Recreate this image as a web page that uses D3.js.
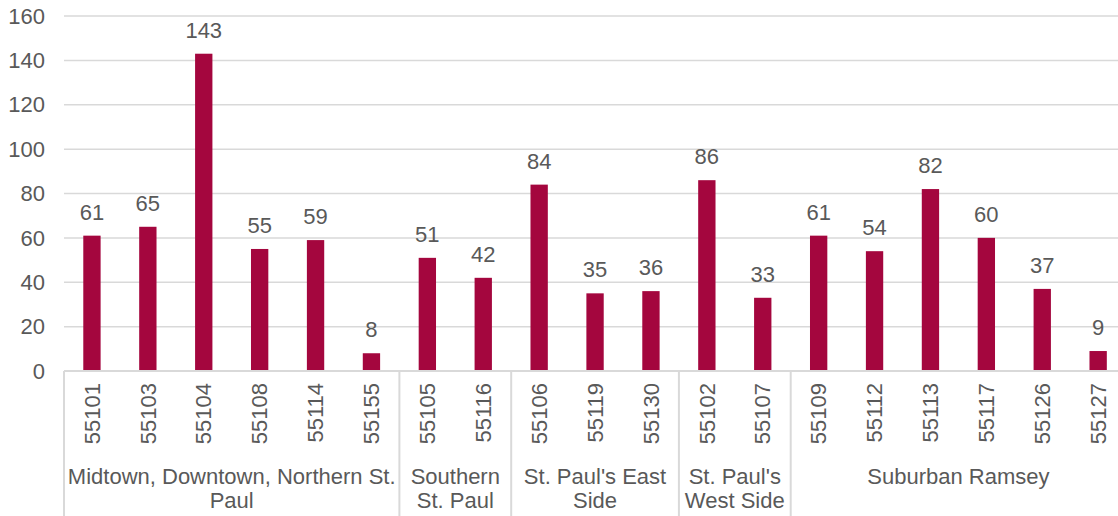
<!DOCTYPE html>
<html>
<head>
<meta charset="utf-8">
<script src="https://cdn.jsdelivr.net/npm/d3@7"></script>
<style>
  body { margin: 0; background: #fff; }
  text { font-family: "Liberation Sans", Arial, sans-serif; font-size: 22px; fill: #595959; }
</style>
</head>
<body>
<div id="wrapper"></div>
<script>
// data
var zips = ["55101", "55103", "55104", "55108", "55114", "55155",
            "55105", "55116",
            "55106", "55119", "55130",
            "55102", "55107",
            "55109", "55112", "55113", "55117", "55126", "55127"];
var values = [61, 65, 143, 55, 59, 8,
              51, 42,
              84, 35, 36,
              86, 33,
              61, 54, 82, 60, 37, 9];
var groupNames = ["Midtown, Downtown, Northern St.\nPaul", "Southern\nSt. Paul",
                  "St. Paul's East\nSide", "St. Paul's\nWest Side", "Suburban Ramsey"];
var groupSizes = [6, 2, 3, 2, 6];
var yTicks = [0, 20, 40, 60, 80, 100, 120, 140, 160];

var width = 1118, height = 516;
var margin = {left: 64, top: 16, bottom: 145};
var plotRight = margin.left + 19 * 55.9;

var svg = d3.select("#wrapper")
    .append("svg")
    .attr("width", width)
    .attr("height", height);

var x = d3.scaleBand()
    .domain(zips)
    .range([margin.left, plotRight])
    .paddingInner(0.69)
    .paddingOuter(0.345);

var y = d3.scaleLinear()
    .domain([0, 160])
    .range([height - margin.bottom, margin.top]);

// gridlines
svg.selectAll("line.grid")
    .data(yTicks.slice(1))
    .enter()
    .append("line")
    .attr("x1", margin.left)
    .attr("x2", width)
    .attr("y1", function(d) { return y(d); })
    .attr("y2", function(d) { return y(d); })
    .attr("stroke", "#d9d9d9")
    .attr("stroke-width", 1.5);

// y labels
svg.selectAll("text.ylab")
    .data(yTicks)
    .enter()
    .append("text")
    .text(function(d) { return d; })
    .attr("x", 45)
    .attr("y", function(d) { return y(d); })
    .attr("dy", "0.35em")
    .style("text-anchor", "end");

// bars
svg.selectAll("rect")
    .data(values)
    .enter()
    .append("rect")
    .attr("x", function(d, i) { return x(zips[i]); })
    .attr("width", x.bandwidth())
    .attr("y", function(d) { return y(d); })
    .attr("height", function(d) { return y(0) - y(d); })
    .attr("fill", "#a4063e");

// value labels
svg.selectAll("text.val")
    .data(values)
    .enter()
    .append("text")
    .text(function(d) { return d; })
    .attr("x", function(d, i) { return x(zips[i]) + x.bandwidth() / 2; })
    .attr("y", function(d) { return y(d) - 16; })
    .style("text-anchor", "middle");

// baseline
svg.append("line")
    .attr("x1", margin.left)
    .attr("x2", width)
    .attr("y1", y(0))
    .attr("y2", y(0))
    .attr("stroke", "#d9d9d9")
    .attr("stroke-width", 2);

// zip labels, rotated
svg.selectAll("text.zip")
    .data(zips)
    .enter()
    .append("text")
    .text(function(d) { return d; })
    .attr("transform", function(d) {
        return "translate(" + (x(d) + x.bandwidth() / 2) + "," + (y(0) + 12) + ") rotate(-90)";
    })
    .attr("dy", "0.35em")
    .style("text-anchor", "end");

// group separators and labels
var step = x.step();
var starts = [0];
groupSizes.forEach(function(n, i) { starts.push(starts[i] + n); });

svg.selectAll("line.sep")
    .data(starts)
    .enter()
    .append("line")
    .attr("x1", function(d) { return margin.left + d * step; })
    .attr("x2", function(d) { return margin.left + d * step; })
    .attr("y1", y(0))
    .attr("y2", height)
    .attr("stroke", "#d9d9d9")
    .attr("stroke-width", 2);

var groups = svg.selectAll("text.grp")
    .data(groupNames)
    .enter()
    .append("text")
    .attr("x", function(d, i) { return margin.left + (starts[i] + groupSizes[i] / 2) * step; })
    .attr("y", 484)
    .style("text-anchor", "middle");

groups.selectAll("tspan")
    .data(function(d) { return d.split("\n"); })
    .enter()
    .append("tspan")
    .attr("x", function() { return d3.select(this.parentNode).attr("x"); })
    .attr("dy", function(d, i) { return i === 0 ? 0 : 24; })
    .text(function(d) { return d; });
</script>
</body>
</html>
